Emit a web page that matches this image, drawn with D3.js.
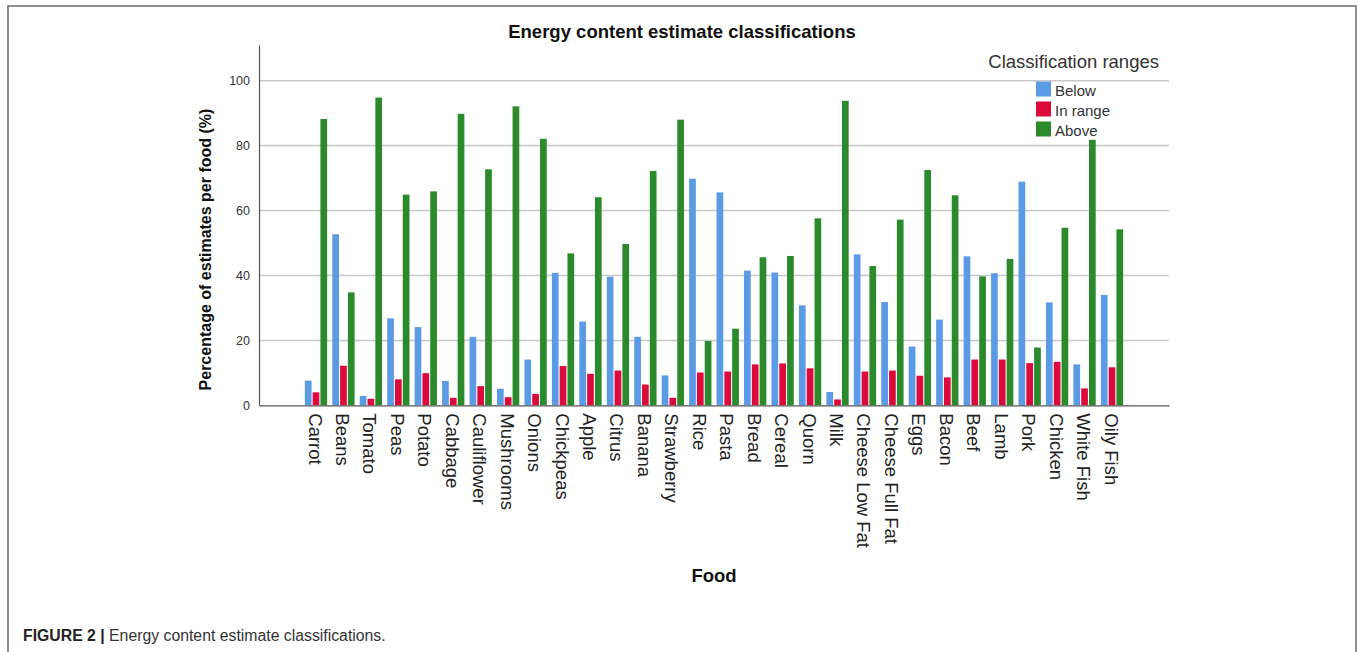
<!DOCTYPE html>
<html>
<head>
<meta charset="utf-8">
<script src="https://cdn.jsdelivr.net/npm/d3@7"></script>
<style>
  html, body { margin: 0; padding: 0; background: #fff; }
  svg { display: block; font-family: "Liberation Sans", Arial, sans-serif; }
</style>
</head>
<body>
<svg id="chart" width="1358" height="652"></svg>
<script>
const foods = ["Carrot","Beans","Tomato","Peas","Potato","Cabbage","Cauliflower","Mushrooms","Onions","Chickpeas","Apple","Citrus","Banana","Strawberry","Rice","Pasta","Bread","Cereal","Quorn","Milk","Cheese Low Fat","Cheese Full Fat","Eggs","Bacon","Beef","Lamb","Pork","Chicken","White Fish","Oily Fish"];
const below   = [7.6,52.7,2.9,26.8,24.1,7.5,21.1,5.1,14.1,40.8,25.8,39.6,21.1,9.2,69.8,65.6,41.5,40.9,30.8,4.1,46.5,31.8,18.1,26.4,45.9,40.7,68.9,31.7,12.6,34.0];
const inRange = [4.0,12.2,2.0,8.0,9.9,2.3,5.9,2.5,3.5,12.1,9.7,10.7,6.4,2.3,10.1,10.4,12.6,12.9,11.4,1.8,10.4,10.7,9.1,8.6,14.1,14.1,13.0,13.4,5.2,11.7];
const above   = [88.2,34.8,94.8,64.9,65.9,89.8,72.7,92.1,82.1,46.8,64.1,49.7,72.2,88.0,19.8,23.6,45.6,46.0,57.6,93.8,42.9,57.2,72.5,64.7,39.7,45.1,17.8,54.7,81.8,54.2];
const seriesNames = ["Below","In range","Above"];
const seriesColors = ["#5b9be6","#dc0a3c","#2b8a2b"];
const yTicks = [0,20,40,60,80,100];

const seriesValues = [below, inRange, above];
const rows = foods.map((f, i) => ({food: f, vals: seriesNames.map((s, k) => ({key: s, value: seriesValues[k][i]}))}));

const svg = d3.select("#chart");
const left = 259, right = 1169, bottom = 405.3;

// figure frame
svg.append("rect").attr("x", 8).attr("y", 6).attr("width", 1348).attr("height", 700)
  .attr("fill", "none").attr("stroke", "#6e6e6e").attr("stroke-width", 1.5);

const x0 = d3.scaleBand().domain(foods).range([left, right]).paddingInner(0.1876).paddingOuter(1.67);
const x1 = d3.scaleBand().domain(seriesNames).range([0, x0.bandwidth()]).paddingInner(0.14);
const y = d3.scaleLinear().domain([0, 111]).range([bottom, bottom - 111 * 3.246]);
const color = d3.scaleOrdinal().domain(seriesNames).range(seriesColors);

// gridlines
svg.append("g").selectAll("line").data(yTicks.filter(t => t > 0)).join("line")
  .attr("x1", left).attr("x2", right)
  .attr("y1", d => y(d)).attr("y2", d => y(d))
  .attr("stroke", "#c8c8c8").attr("stroke-width", 1.5);

// y axis
const yAxis = svg.append("g").attr("transform", `translate(${left},0)`)
  .call(d3.axisLeft(y).tickValues(yTicks).tickSize(0).tickPadding(9));
yAxis.select(".domain").attr("stroke", "#555").attr("stroke-width", 1.2);
yAxis.selectAll("text").attr("font-size", 12.5).attr("fill", "#333")
  .attr("font-family", "'Liberation Sans', Arial, sans-serif");

// bars
svg.append("g").selectAll("g").data(rows).join("g")
  .attr("transform", d => `translate(${x0(d.food)},0)`)
  .selectAll("rect").data(d => d.vals).join("rect")
  .attr("x", d => x1(d.key)).attr("width", x1.bandwidth())
  .attr("y", d => y(d.value)).attr("height", d => y(0) - y(d.value))
  .attr("fill", d => color(d.key));

// x axis
const xAxis = svg.append("g").attr("transform", `translate(0,${bottom})`)
  .call(d3.axisBottom(x0).tickSize(0).tickPadding(0));
xAxis.select(".domain").attr("stroke", "#555").attr("stroke-width", 1.2);
xAxis.selectAll(".tick text")
  .attr("font-size", 18.5).attr("fill", "#222")
  .attr("font-family", "'Liberation Sans', Arial, sans-serif")
  .attr("text-anchor", "start")
  .attr("transform", "translate(-1,8) rotate(90)")
  .attr("x", 0).attr("y", 0).attr("dy", "0.35em");

// title
svg.append("text").attr("x", 682).attr("y", 38).attr("text-anchor", "middle")
  .attr("font-size", 18.5).attr("font-weight", "bold").attr("fill", "#111")
  .text("Energy content estimate classifications");

// y axis title
svg.append("text").attr("transform", `translate(211,${(108 + 391) / 2}) rotate(-90)`)
  .attr("text-anchor", "middle").attr("font-size", 16).attr("font-weight", "bold").attr("fill", "#111")
  .text("Percentage of estimates per food (%)");

// x axis title
svg.append("text").attr("x", 714).attr("y", 582).attr("text-anchor", "middle")
  .attr("font-size", 18.5).attr("font-weight", "bold").attr("fill", "#111")
  .text("Food");

// legend
svg.append("text").attr("x", 1159).attr("y", 68).attr("text-anchor", "end")
  .attr("font-size", 18.5).attr("fill", "#333").text("Classification ranges");
const lg = svg.append("g").selectAll("g").data(seriesNames).join("g")
  .attr("transform", (d, i) => `translate(1036,${81.5 + i * 20})`);
lg.append("rect").attr("width", 15).attr("height", 15).attr("fill", d => color(d));
lg.append("text").attr("x", 19).attr("y", 14).attr("font-size", 15).attr("fill", "#333").text(d => d);

// caption
const cap = svg.append("text").attr("x", 23).attr("y", 641).attr("font-size", 15.8).attr("fill", "#333");
cap.append("tspan").attr("font-weight", "bold").attr("fill", "#222").text("FIGURE 2 | ");
cap.append("tspan").text("Energy content estimate classifications.");
</script>
</body>
</html>
